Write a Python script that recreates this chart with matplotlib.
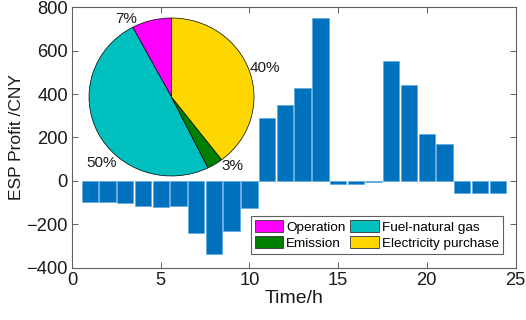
import numpy as np
import matplotlib
matplotlib.use('Agg')
import matplotlib.pyplot as plt
from matplotlib.patches import Patch

plt.rcParams['font.family'] = ['Liberation Sans', 'DejaVu Sans']

# hourly ESP profit (CNY)
hours = list(range(1, 25))
profit = [-98, -97, -103, -114, -122, -115, -243, -339, -232, -126,
          289, 351, 430, 751, -14, -14, -5, 551, 440, 217,
          171, -55, -58, -57]

# cost shares of the pie (counter-clockwise from the top)
cost_names = ['Operation', 'Fuel-natural gas', 'Emission', 'Electricity purchase']
cost_share = [7.8, 49.5, 3.1, 39.6]
cost_labels = ['7%', '50%', '3%', '40%']
cost_colors = ['#FF00FF', '#00BFBF', '#008000', '#FFD700']

xticks = [0, 5, 10, 15, 20, 25]
yticks = [-400, -200, 0, 200, 400, 600, 800]

fig = plt.figure(figsize=(5.26, 3.2), dpi=100)
ax = fig.add_axes([72 / 526, 0.164, 443.5 / 526, 0.813])

ax.bar(hours, profit, width=0.92, color='#0072BD', edgecolor='#5fa8dd', linewidth=0.5)
ax.set_xlim(0, 25)
ax.set_ylim(-400, 800)
ax.set_xticks(xticks)
ax.set_yticks(yticks)
ax.tick_params(direction='in', top=True, right=True, length=4, width=0.7,
               colors='#606060', labelcolor='#1a1a1a', labelsize=13.2, pad=3)
for s in ax.spines.values():
    s.set_color('#606060')
    s.set_linewidth(0.8)
ax.set_xlabel('Time/h', fontsize=14, color='#1a1a1a', labelpad=1)
ax.set_ylabel('ESP Profit /CNY', fontsize=12.5, color='#1a1a1a', labelpad=2)

handles = [Patch(facecolor=c, edgecolor='#333333', linewidth=0.6) for c in cost_colors]
# column-first fill: Operation, Emission | Fuel, Electricity
order = [0, 2, 1, 3]
leg = ax.legend([handles[i] for i in order], [cost_names[i] for i in order],
                ncol=2, loc='lower right', bbox_to_anchor=(0.972, 0.052),
                borderaxespad=0, fontsize=9.7, handlelength=2.1, handleheight=1.0,
                handletextpad=0.25, columnspacing=0.35, labelspacing=0.2,
                borderpad=0.3, fancybox=False, framealpha=1)
leg.get_frame().set_edgecolor('#606060')
leg.get_frame().set_linewidth(0.8)

# pie inset
pax = fig.add_axes([89 / 526, (320 - 176) / 320, 165 / 526, 158 / 320])
pax.pie(cost_share, colors=cost_colors, startangle=90, counterclock=True,
        wedgeprops=dict(edgecolor='black', linewidth=0.5))
pax.set_aspect('auto')
pax.set_xlim(-1, 1)
pax.set_ylim(-1, 1)
pax.patch.set_alpha(0)
label_pos = [(-0.55, 0.99), (-0.85, -0.84), (0.74, -0.87), (1.13, 0.37)]
for (lx, ly), txt in zip(label_pos, cost_labels):
    pax.text(lx, ly, txt, ha='center', va='center', fontsize=11, color='#1a1a1a')

fig.savefig('out.png', dpi=100)
